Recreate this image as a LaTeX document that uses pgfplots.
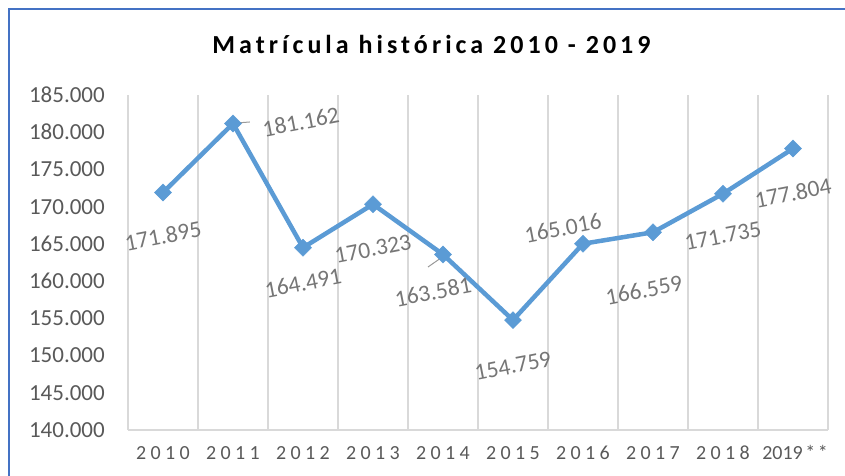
\documentclass[border=0pt]{standalone}
\usepackage{fontspec}
\setmainfont{Carlito}
\newfontfamily\xfont[LetterSpace=22]{Carlito}
\newfontfamily\tfont[LetterSpace=15.5]{Carlito}
\usepackage{pgfplots}
\pgfplotsset{compat=1.18}
\definecolor{lineblue}{HTML}{5B9BD5}
\definecolor{gridgray}{HTML}{D9D9D9}
\definecolor{ticktext}{HTML}{595959}
\definecolor{labeltext}{HTML}{767676}
\definecolor{frameblue}{HTML}{4472C4}
\tikzset{lab/.style={rotate=11, text=labeltext, inner sep=0pt, font=\fontsize{23.5}{28}\selectfont}}
\begin{document}
\begin{tikzpicture}
\begin{axis}[
  scale only axis, width=700pt, height=335pt,
  xmin=-0.5, xmax=9.5, ymin=140000, ymax=185000,
  clip=false,
  ytick={140000,145000,...,185000},
  scaled y ticks=false,
  /pgf/number format/.cd, fixed, precision=0, 1000 sep={.}, assume math mode=true,
  /pgfplots/.cd,
  xtick={0,...,9},
  xticklabels={2010,2011,2012,2013,2014,2015,2016,2017,2018,{\rmfamily 2019\kern2.5pt*\kern2.5pt*\kern-4pt}},
  minor xtick={-0.5,0.5,...,9.5},
  xminorgrids,
  minor grid style={gridgray, line width=1.2pt},
  major tick length=0pt, minor tick length=0pt,
  axis lines*=left,
  axis line style={gridgray, line width=1.2pt},
  yticklabel style={font=\fontsize{23}{27}\selectfont, text=ticktext, inner sep=0pt, anchor=east, xshift=-23pt},
  xticklabel style={font=\xfont\fontsize{20}{24}\selectfont, text=ticktext, inner sep=0pt, anchor=base, yshift=-30pt},
]
\addplot[lineblue, line width=4.5pt, mark=square*, mark size=6pt,
  mark options={solid, rotate=45, fill=lineblue, draw=lineblue, line width=0.5pt}]
  coordinates {(0,171895) (1,181162) (2,164491) (3,170323) (4,163581)
               (5,154759) (6,165016) (7,166559) (8,171735) (9,177804)};
\draw[gray!80, line width=1pt] (axis cs:1,181200) -- (axis cs:1.24,181374);
\draw[gray!80, line width=1pt] (axis cs:3.786,161896) -- (axis cs:4,163300);
\node[lab] at (axis cs:0,166060) {171.895};
\node[lab] at (axis cs:1.97,181374) {181.162};
\node[lab] at (axis cs:2,159747) {164.491};
\node[lab] at (axis cs:3,164313) {170.323};
\node[lab] at (axis cs:3.857,158538) {163.581};
\node[lab] at (axis cs:5,148597) {154.759};
\node[lab] at (axis cs:5.714,167135) {165.016};
\node[lab] at (axis cs:6.871,158806) {166.559};
\node[lab] at (axis cs:8,166060) {171.735};
\node[lab] at (axis cs:9,171836) {177.804};
\node[anchor=base, font=\tfont\bfseries\fontsize{26}{30}\selectfont] at (rel axis cs:0.4336,1.1224) {Matrícula histórica 2010 - 2019};
\draw[frameblue, line width=1.6pt] (rel axis cs:-0.17,-0.2) -- (rel axis cs:-0.17,1.2567) -- (rel axis cs:1.1,1.2567);
\coordinate (bl) at (rel axis cs:-0.18286,-0.13731);
\coordinate (tr) at (rel axis cs:1.02429,1.28358);
\end{axis}
\pgfresetboundingbox
\path[use as bounding box] (bl) rectangle (tr);
\end{tikzpicture}
\end{document}
